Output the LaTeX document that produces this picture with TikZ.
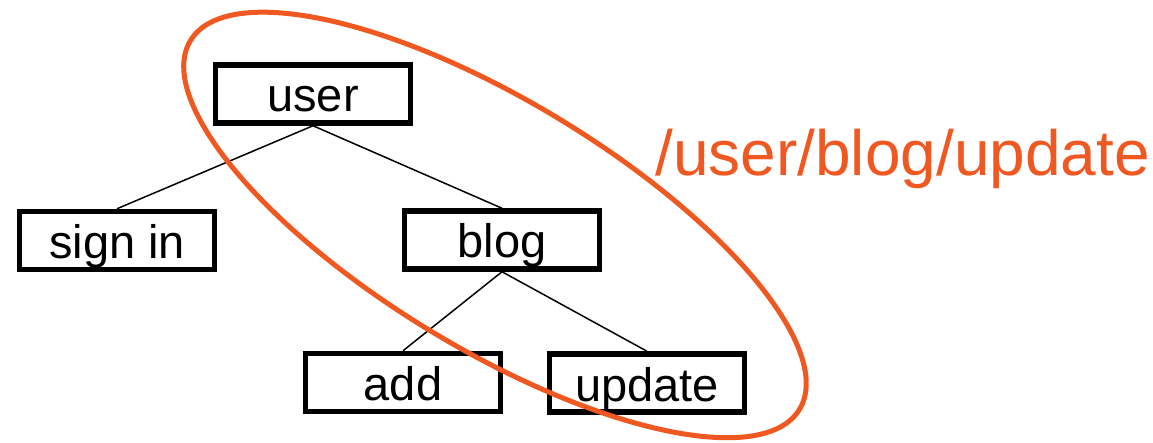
\documentclass[tikz,border=0pt]{standalone}
\usepackage{fontspec}
\setmainfont{Liberation Sans}
\definecolor{pathorange}{RGB}{240,88,34}
\begin{document}
\begin{tikzpicture}[x=1pt,y=-1pt,
  treebox/.style={draw=black,line width=5.5pt,minimum width=195pt,minimum height=58pt,
    inner sep=0pt,text height=36pt,text depth=0pt,font=\fontsize{47}{50}\selectfont},
  edge/.style={draw=black,line width=1.5pt},
  ring/.style={draw=pathorange,line width=5pt}]
\useasboundingbox (0,0) rectangle (1153,443);
\node[treebox] (user) at (313,94) {user};
\node[treebox] (signin) at (117,240.5) {sign in};
\node[treebox] (blog) at (502,240) {blog};
\node[treebox] (add) at (403,382.5) {add};
\node[treebox] (update) at (647,383) {update};
\draw[edge] (user.south) -- (signin.north);
\draw[edge] (user.south) -- (blog.north);
\draw[edge] (blog.south) -- (add.north);
\draw[edge] (blog.south) -- (update.north);
\coordinate (c) at (495,225);
\draw[ring,rotate around={-31.2:(c)}] (c) ellipse [x radius=356pt,y radius=124pt];
\node[anchor=base west,inner sep=0pt,text=pathorange,font=\fontsize{64}{70}\selectfont] (label) at (655,176) {/user/blog/update};
\end{tikzpicture}
\end{document}
